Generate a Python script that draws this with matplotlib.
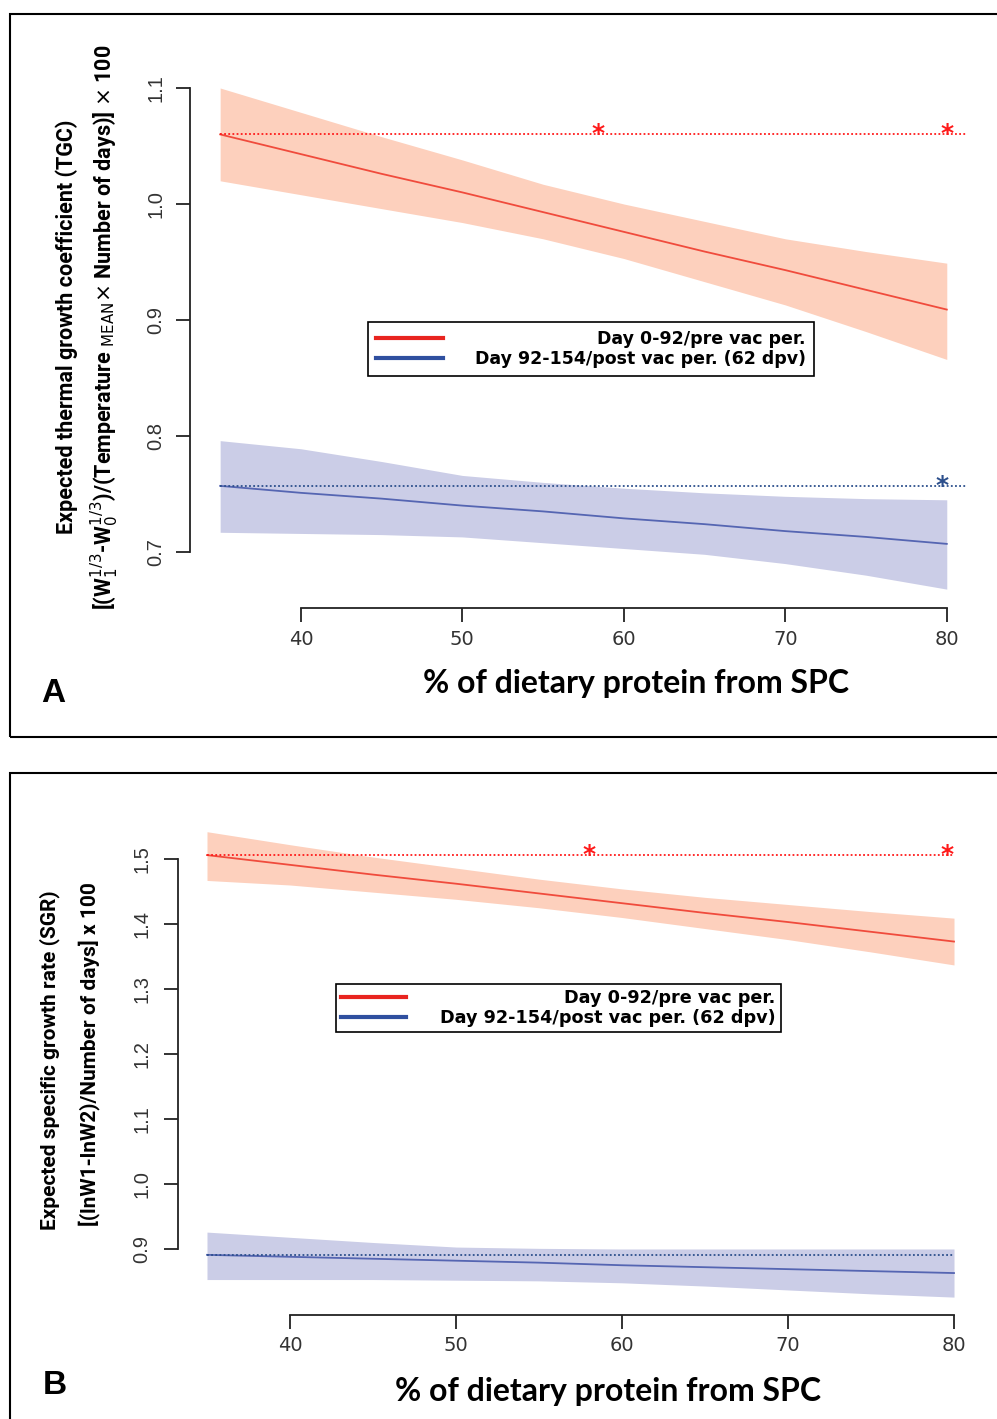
import matplotlib
matplotlib.use("Agg")
import matplotlib.pyplot as plt
from matplotlib.patches import Rectangle
from matplotlib.lines import Line2D

plt.rcParams["font.family"] = ["Liberation Sans", "DejaVu Sans"]

x_pts = [35, 40, 45, 50, 55, 60, 65, 70, 75, 80]

# panel A - thermal growth coefficient
tgc_pre_fit = [1.060, 1.043, 1.026, 1.010, 0.993, 0.976, 0.959, 0.943, 0.926, 0.909]
tgc_pre_hi = [1.100, 1.079, 1.058, 1.038, 1.017, 1.000, 0.985, 0.970, 0.959, 0.949]
tgc_pre_lo = [1.020, 1.008, 0.996, 0.984, 0.970, 0.953, 0.933, 0.913, 0.890, 0.866]
tgc_post_fit = [0.757, 0.751, 0.746, 0.740, 0.735, 0.729, 0.724, 0.718, 0.713, 0.707]
tgc_post_hi = [0.796, 0.789, 0.778, 0.766, 0.760, 0.755, 0.751, 0.748, 0.746, 0.745]
tgc_post_lo = [0.717, 0.716, 0.715, 0.713, 0.708, 0.703, 0.698, 0.690, 0.680, 0.668]
tgc_ref = [1.060, 0.757]
tgc_ref_x = [35, 81.2]
tgc_star_pre = [58.4, 80.0]
tgc_star_post = [79.7]

# panel B - specific growth rate
sgr_pre_fit = [1.506, 1.491, 1.476, 1.462, 1.447, 1.432, 1.417, 1.403, 1.388, 1.373]
sgr_pre_hi = [1.542, 1.522, 1.503, 1.486, 1.469, 1.454, 1.441, 1.430, 1.419, 1.409]
sgr_pre_lo = [1.467, 1.460, 1.449, 1.438, 1.425, 1.410, 1.393, 1.376, 1.357, 1.337]
sgr_post_fit = [0.891, 0.888, 0.885, 0.882, 0.879, 0.875, 0.872, 0.869, 0.866, 0.863]
sgr_post_hi = [0.926, 0.918, 0.910, 0.903, 0.901, 0.900, 0.900, 0.900, 0.900, 0.900]
sgr_post_lo = [0.853, 0.853, 0.853, 0.852, 0.851, 0.848, 0.843, 0.837, 0.831, 0.826]
sgr_ref = [1.506, 0.891]
sgr_ref_x = [35, 80]
sgr_star_pre = [58.0, 79.6]

xticks = [40, 50, 60, 70, 80]
tgc_yticks = [0.7, 0.8, 0.9, 1.0, 1.1]
sgr_yticks = [0.9, 1.0, 1.1, 1.2, 1.3, 1.4, 1.5]
legend_labels = ["Day 0-92/pre vac per.", "Day 92-154/post vac per. (62 dpv)"]

W, H = 997, 1419
fig = plt.figure(figsize=(W / 100, H / 100), dpi=100)


def fx(px):
    return px / W


def fy(py):
    return 1 - py / H


RED_FILL = "#fdd0bd"
BLUE_FILL = "#cbcde7"
RED_LINE = "#f04b3c"
BLUE_LINE = "#5565b2"
RED_DOT = "#ff1a1a"
BLUE_DOT = "#2c4f8c"
label_font = ["Roboto", "DejaVu Sans"]


def draw_panel(ax, fits, his, los, refs, ref_x, stars, yticks,
               out_left, out_bottom, xpad, ypad):
    fills = [RED_FILL, BLUE_FILL]
    lines = [RED_LINE, BLUE_LINE]
    dots = [RED_DOT, BLUE_DOT]
    for i in range(2):
        ax.fill_between(x_pts, los[i], his[i], color=fills[i], lw=0, zorder=1)
    for i in range(2):
        ax.plot(x_pts, fits[i], color=lines[i], lw=1.3, zorder=2)
        ax.hlines(refs[i], ref_x[0], ref_x[1], colors=dots[i], lw=1.3,
                  linestyles=(0, (1, 1.3)), zorder=3)
        for sx in stars[i]:
            ax.text(sx, refs[i], "*", color=dots[i], fontsize=18, ha="center",
                    va="center", fontweight="bold", family="DejaVu Sans", zorder=4)
    for s in ["top", "right"]:
        ax.spines[s].set_visible(False)
    # spine position first: it resets the ticks
    ax.spines["left"].set_position(("outward", out_left))
    ax.spines["bottom"].set_position(("outward", out_bottom))
    ax.spines["bottom"].set_bounds(xticks[0], xticks[-1])
    ax.spines["left"].set_bounds(yticks[0], yticks[-1])
    for s in ["bottom", "left"]:
        ax.spines[s].set_linewidth(1.3)
        ax.spines[s].set_color("#222222")
    ax.set_xticks(xticks)
    ax.set_xticklabels([str(v) for v in xticks])
    ax.set_yticks(yticks)
    ax.set_yticklabels(["%.1f" % v for v in yticks])
    ax.tick_params(axis="both", length=10, width=1.3, color="#222222",
                   labelcolor="#333333")
    ax.tick_params(axis="x", pad=xpad, labelsize=14)
    ax.tick_params(axis="y", pad=ypad, labelsize=14.5, labelrotation=90)
    for lab in ax.get_xticklabels():
        lab.set_family("DejaVu Sans")
    for lab in ax.get_yticklabels():
        lab.set_va("center")


def add_legend(ax, x0, y0, size, hlen, hpad, bpad, lspace):
    handles = [Line2D([], [], color="#e8241f", lw=3),
               Line2D([], [], color="#2f4f9f", lw=3)]
    leg = ax.legend(handles, legend_labels, loc="upper left",
                    bbox_to_anchor=(fx(x0), fy(y0)), bbox_transform=fig.transFigure,
                    frameon=True, fancybox=False, edgecolor="black", framealpha=1,
                    handlelength=hlen, handletextpad=hpad, borderpad=bpad,
                    labelspacing=lspace, borderaxespad=0,
                    prop={"family": "DejaVu Sans", "weight": "bold", "size": size})
    leg.get_frame().set_linewidth(1.2)
    return leg


# ---- panel A ----
axA = fig.add_axes([fx(204), fy(598.4), 767 / W, 522 / H])
axA.set_xlim(34, 81.5)
axA.set_ylim(0.66, 1.11)
draw_panel(axA, [tgc_pre_fit, tgc_post_fit], [tgc_pre_hi, tgc_post_hi],
           [tgc_pre_lo, tgc_post_lo], tgc_ref, tgc_ref_x,
           [tgc_star_pre, tgc_star_post], tgc_yticks, 10, 7, 6, 8)
legA = add_legend(axA, 368, 322, 12.5, 3.85, 1.85, 0.45, 0.15)

# ---- panel B ----
axB = fig.add_axes([fx(190.4), fy(1301), 780.2 / W, 481 / H])
axB.set_xlim(34, 81)
axB.set_ylim(0.82, 1.56)
draw_panel(axB, [sgr_pre_fit, sgr_post_fit], [sgr_pre_hi, sgr_post_hi],
           [sgr_pre_lo, sgr_post_lo], sgr_ref, sgr_ref_x,
           [sgr_star_pre, []], sgr_yticks, 9, 10, 5, 9)
legB = add_legend(axB, 336, 984, 12.7, 3.65, 1.95, 0.3, 0.1)

# right align legend texts
fig.canvas.draw()
rend = fig.canvas.get_renderer()
for leg in [legA, legB]:
    texts = leg.get_texts()
    widths = [t.get_window_extent(rend).width for t in texts]
    wmax = max(widths)
    for t, w in zip(texts, widths):
        t.set_position((wmax - w, 0))

# axis titles
xlab = dict(fontsize=23, fontweight="bold", family=["Lato", "DejaVu Sans"],
            ha="center", va="center")
fig.text(fx(636), fy(684), "% of dietary protein from SPC", **xlab)
fig.text(fx(608), fy(1391), "% of dietary protein from SPC", **xlab)

ylabA = dict(fontsize=15.5, fontweight="bold", family=label_font, rotation=90,
             ha="center", va="center")
ylabB = dict(ylabA, fontsize=15)
fig.text(fx(67), fy(327), "Expected thermal growth coefficient (TGC)", **ylabA)
fig.text(fx(105), fy(327),
         r"[(W$_1^{1/3}$-W$_0^{1/3}$)/(Temperature $_{\mathrm{MEAN}}$$\times$ Number of days)] $\times$ 100",
         **ylabA)
fig.text(fx(50), fy(1060), "Expected specific growth rate (SGR)", **ylabB)
fig.text(fx(89), fy(1054), "[(lnW1-lnW2)/Number of days] x 100", **ylabB)

# panel letters
letter = dict(fontsize=24, fontweight="bold", ha="center", va="center")
fig.text(fx(53), fy(693), "A", **letter)
fig.text(fx(55), fy(1385), "B", **letter)

# panel frames
fig.patches.append(Rectangle((fx(10), fy(737)), fx(1000), (737 - 14) / H,
                             transform=fig.transFigure, fill=False, lw=1.5,
                             edgecolor="black"))
fig.patches.append(Rectangle((fx(10), fy(1430)), fx(1000), (1430 - 773) / H,
                             transform=fig.transFigure, fill=False, lw=1.5,
                             edgecolor="black"))

fig.savefig("out.png", dpi=100)
